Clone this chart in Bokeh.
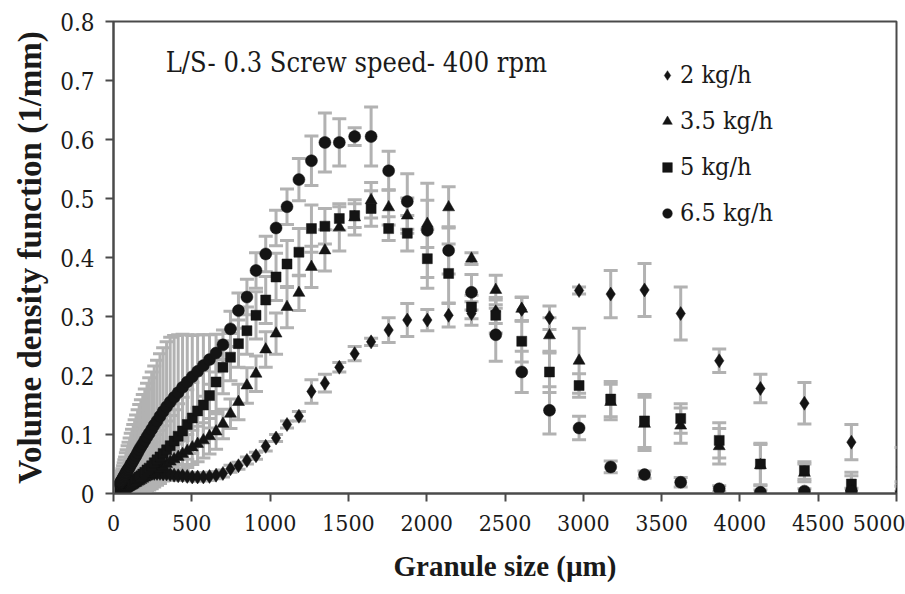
from bokeh.plotting import figure
from bokeh.models import Legend, LegendItem, Label, FixedTicker, Range1d, ColumnDataSource
from bokeh.embed import file_html
from bokeh.resources import INLINE

# Granule size bins (um)
size_um = [41, 44, 47, 50, 53, 57, 61, 65, 69, 74, 79, 84, 90, 96, 103, 110, 118, 126, 135, 144,
           154, 164, 175, 187, 200, 214, 228, 244, 260, 278, 297, 317, 339, 362, 387, 413, 441, 471,
           503, 537, 574, 613, 655, 699, 747, 798, 852, 910, 972, 1038, 1108, 1184, 1264, 1350, 1442,
           1540, 1645, 1757, 1876, 2004, 2140, 2286, 2441, 2607, 2784, 2973, 3175, 3391, 3622, 3868,
           4131, 4412, 4712, 5032]

# 2 kg/h (diamonds)
v_2 = [0.004, 0.005, 0.005, 0.006, 0.006, 0.007, 0.008, 0.008, 0.009, 0.010, 0.011, 0.012, 0.013, 0.014,
       0.015, 0.016, 0.018, 0.019, 0.021, 0.023, 0.025, 0.027, 0.028, 0.030, 0.031, 0.032, 0.033, 0.034,
       0.034, 0.034, 0.034, 0.033, 0.033, 0.032, 0.031, 0.030, 0.030, 0.029, 0.028, 0.028, 0.028, 0.029,
       0.031, 0.034, 0.042, 0.047, 0.056, 0.064, 0.080, 0.094, 0.117, 0.131, 0.173, 0.187, 0.214, 0.237,
       0.257, 0.277, 0.294, 0.294, 0.302, 0.305, 0.308, 0.312, 0.298, 0.344, 0.338, 0.345, 0.305, 0.225,
       0.178, 0.153, 0.087, 0.045]
e_2 = [0.003, 0.003, 0.003, 0.003, 0.004, 0.004, 0.004, 0.004, 0.005, 0.005, 0.005, 0.005, 0.006, 0.006,
       0.006, 0.006, 0.007, 0.007, 0.007, 0.007, 0.008, 0.008, 0.008, 0.008, 0.008, 0.008, 0.008, 0.008,
       0.008, 0.008, 0.008, 0.008, 0.008, 0.008, 0.008, 0.008, 0.007, 0.007, 0.007, 0.007, 0.007, 0.007,
       0.006, 0.006, 0.006, 0.006, 0.006, 0.006, 0.008, 0.006, 0.006, 0.008, 0.020, 0.015, 0.008, 0.012,
       0.006, 0.021, 0.028, 0.018, 0.020, 0.020, 0.020, 0.020, 0.020, 0.006, 0.040, 0.045, 0.045, 0.020,
       0.024, 0.035, 0.030, 0.033]

# 3.5 kg/h (triangles)
v_35 = [0.003, 0.003, 0.004, 0.004, 0.005, 0.005, 0.006, 0.006, 0.007, 0.008, 0.008, 0.009, 0.010, 0.011,
        0.012, 0.013, 0.014, 0.015, 0.017, 0.018, 0.020, 0.021, 0.023, 0.025, 0.027, 0.029, 0.032, 0.034,
        0.037, 0.040, 0.043, 0.046, 0.050, 0.054, 0.058, 0.062, 0.067, 0.072, 0.078, 0.084, 0.090, 0.097,
        0.105, 0.118, 0.135, 0.155, 0.183, 0.203, 0.244, 0.271, 0.316, 0.340, 0.384, 0.412, 0.451, 0.468,
        0.497, 0.485, 0.471, 0.457, 0.485, 0.398, 0.345, 0.313, 0.268, 0.225, 0.155, 0.118, 0.115, 0.080,
        0.048, 0.035, 0.010, 0.008]
e_35 = [0.003, 0.003, 0.003, 0.004, 0.004, 0.004, 0.005, 0.005, 0.005, 0.006, 0.006, 0.007, 0.007, 0.008,
        0.008, 0.009, 0.009, 0.010, 0.011, 0.011, 0.012, 0.013, 0.014, 0.015, 0.016, 0.017, 0.018, 0.019,
        0.020, 0.021, 0.022, 0.023, 0.024, 0.025, 0.026, 0.027, 0.028, 0.028, 0.029, 0.030, 0.030, 0.030,
        0.030, 0.025, 0.025, 0.030, 0.030, 0.030, 0.030, 0.035, 0.035, 0.030, 0.035, 0.035, 0.040, 0.030,
        0.030, 0.030, 0.030, 0.040, 0.035, 0.010, 0.025, 0.020, 0.030, 0.055, 0.030, 0.045, 0.030, 0.030,
        0.035, 0.015, 0.020, 0.012]

# 5 kg/h (squares)
v_5 = [0.004, 0.005, 0.005, 0.006, 0.006, 0.007, 0.008, 0.008, 0.009, 0.010, 0.011, 0.012, 0.013, 0.014,
       0.015, 0.017, 0.018, 0.020, 0.022, 0.024, 0.026, 0.028, 0.030, 0.033, 0.036, 0.040, 0.043, 0.047,
       0.052, 0.057, 0.062, 0.068, 0.074, 0.081, 0.089, 0.097, 0.106, 0.117, 0.128, 0.140, 0.150, 0.166,
       0.189, 0.214, 0.231, 0.254, 0.276, 0.302, 0.328, 0.367, 0.389, 0.409, 0.449, 0.453, 0.466, 0.471,
       0.483, 0.449, 0.441, 0.398, 0.373, 0.316, 0.302, 0.258, 0.206, 0.183, 0.160, 0.123, 0.127, 0.090,
       0.050, 0.039, 0.016, 0.006]
e_5 = [0.003, 0.003, 0.004, 0.004, 0.005, 0.005, 0.006, 0.007, 0.008, 0.009, 0.010, 0.011, 0.012, 0.013,
       0.014, 0.016, 0.017, 0.019, 0.021, 0.023, 0.025, 0.027, 0.029, 0.031, 0.033, 0.035, 0.037, 0.039,
       0.041, 0.043, 0.045, 0.047, 0.049, 0.051, 0.053, 0.055, 0.057, 0.059, 0.060, 0.060, 0.058, 0.055,
       0.050, 0.045, 0.040, 0.040, 0.040, 0.040, 0.040, 0.040, 0.040, 0.040, 0.040, 0.030, 0.020, 0.020,
       0.030, 0.020, 0.030, 0.050, 0.050, 0.020, 0.030, 0.035, 0.035, 0.020, 0.030, 0.045, 0.025, 0.030,
       0.035, 0.015, 0.020, 0.008]

# 6.5 kg/h (circles)
v_65 = [0.016, 0.018, 0.019, 0.021, 0.022, 0.024, 0.026, 0.028, 0.030, 0.032, 0.035, 0.037, 0.040, 0.042,
        0.045, 0.049, 0.052, 0.056, 0.060, 0.064, 0.069, 0.074, 0.079, 0.084, 0.090, 0.096, 0.102, 0.109,
        0.116, 0.123, 0.131, 0.139, 0.147, 0.155, 0.163, 0.171, 0.180, 0.189, 0.198, 0.207, 0.217, 0.227,
        0.238, 0.252, 0.279, 0.310, 0.333, 0.378, 0.406, 0.450, 0.486, 0.532, 0.564, 0.595, 0.595, 0.605,
        0.605, 0.547, 0.495, 0.446, 0.412, 0.341, 0.269, 0.206, 0.141, 0.111, 0.045, 0.032, 0.019, 0.008,
        0.002, 0.004, 0.004, 0.002]
e_65 = [0.008, 0.010, 0.012, 0.014, 0.016, 0.018, 0.021, 0.024, 0.027, 0.030, 0.034, 0.037, 0.041, 0.045,
        0.049, 0.053, 0.057, 0.061, 0.065, 0.069, 0.073, 0.077, 0.080, 0.084, 0.087, 0.091, 0.094, 0.097,
        0.100, 0.103, 0.106, 0.108, 0.110, 0.110, 0.105, 0.098, 0.090, 0.080, 0.070, 0.062, 0.052, 0.042,
        0.032, 0.025, 0.030, 0.030, 0.030, 0.030, 0.030, 0.030, 0.030, 0.036, 0.042, 0.050, 0.040, 0.015,
        0.050, 0.033, 0.047, 0.080, 0.040, 0.030, 0.045, 0.035, 0.040, 0.020, 0.010, 0.006, 0.008, 0.005,
        0.004, 0.004, 0.005, 0.002]

series_labels = ["2 kg/h", "3.5 kg/h", "5 kg/h", "6.5 kg/h"]
x_ticks = [0, 500, 1000, 1500, 2000, 2500, 3000, 3500, 4000, 4500, 5000]
y_ticks = [0, 0.1, 0.2, 0.3, 0.4, 0.5, 0.6, 0.7, 0.8]

FONT_BOLD = "Liberation Serif"
FONT_REG = "DejaVu Serif Condensed"
MARK = "#141414"
ERR = "#b2b2b2"
TXT = "#1a1a1a"

p = figure(width=905, height=594, output_backend="svg", toolbar_location=None,
           x_range=Range1d(0, 5000), y_range=Range1d(0, 0.8),
           min_border_left=113, min_border_right=9, min_border_top=21, min_border_bottom=101)
p.xgrid.visible = False
p.ygrid.visible = False
p.background_fill_color = "white"
p.border_fill_color = "white"
p.outline_line_color = "#4a4a4a"
p.outline_line_width = 2

series = [(v_2, e_2, "diamond", 14), (v_35, e_35, "triangle", 12),
          (v_5, e_5, "square", 10), (v_65, e_65, "circle", 12)]

# error bars first
for vals, errs, _, _ in series:
    lo = [v - e for v, e in zip(vals, errs)]
    hi = [v + e for v, e in zip(vals, errs)]
    src = ColumnDataSource(dict(x=size_um, lo=lo, hi=hi))
    p.segment(x0="x", y0="lo", x1="x", y1="hi", source=src, line_color=ERR, line_width=3)
    p.scatter(x="x", y="lo", source=src, marker="dash", size=14, line_color=ERR, line_width=3)
    p.scatter(x="x", y="hi", source=src, marker="dash", size=14, line_color=ERR, line_width=3)

renderers = []
for vals, errs, marker, sz in series:
    src = ColumnDataSource(dict(x=size_um, y=vals))
    r = p.scatter(x="x", y="y", source=src, marker=marker, size=sz,
                  fill_color=MARK, line_color=MARK, line_width=0.5)
    renderers.append(r)

legend = Legend(items=[LegendItem(label=lab, renderers=[r]) for lab, r in zip(series_labels, renderers)],
                location=(542, 266), border_line_color=None, background_fill_alpha=0,
                label_text_font=FONT_REG, label_text_font_size="25px", label_text_color=TXT,
                glyph_width=24, glyph_height=24, spacing=17, padding=0, margin=0, label_standoff=1)
p.add_layout(legend)

p.add_layout(Label(x=333, y=0.73, text="L/S- 0.3 Screw speed- 400 rpm", text_font=FONT_REG,
                   text_font_size="27px", text_baseline="middle", text_color=TXT))

for ax in (p.xaxis[0], p.yaxis[0]):
    ax.axis_line_color = "#4a4a4a"
    ax.axis_line_width = 2
    ax.major_tick_line_color = "#4a4a4a"
    ax.major_tick_line_width = 2
    ax.major_tick_out = 8
    ax.major_tick_in = 0
    ax.minor_tick_line_color = None
    ax.major_label_text_font = FONT_REG
    ax.major_label_text_color = TXT
    ax.axis_label_text_font = FONT_BOLD
    ax.axis_label_text_font_style = "bold"
    ax.axis_label_text_color = TXT

p.xaxis.major_label_text_font_size = "23px"
p.yaxis.major_label_text_font_size = "24px"
p.xaxis.axis_label_text_font_size = "29px"
p.yaxis.axis_label_text_font_size = "33px"
p.xaxis.ticker = FixedTicker(ticks=x_ticks)
p.yaxis.ticker = FixedTicker(ticks=y_ticks)
p.yaxis.major_label_overrides = {0: "0"}
p.xaxis.axis_label = "Granule size (\u00b5m)"
p.yaxis.axis_label = "Volume density function (1/mm)"
p.xaxis.major_label_standoff = 13
p.yaxis.major_label_standoff = 11
p.xaxis.axis_label_standoff = 16
p.yaxis.axis_label_standoff = 9

open("out.html", "w").write(file_html(p, INLINE))
